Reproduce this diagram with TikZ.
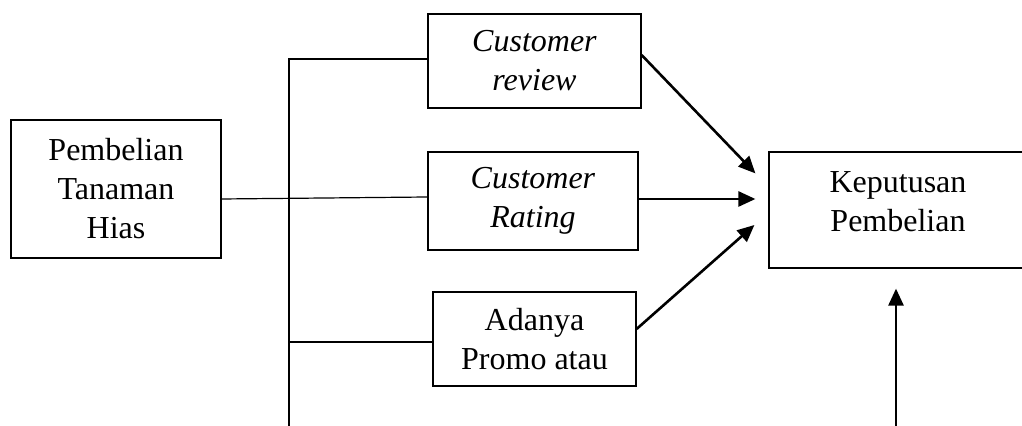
\documentclass[tikz,border=0pt]{standalone}
\usepackage{fontspec}
\setmainfont{Liberation Serif}
\usetikzlibrary{positioning,arrows.meta}

\tikzset{
  varbox/.style={draw, line width=0.6pt, inner sep=0pt, align=center, font=\fontsize{16pt}{19.5pt}\selectfont},
  link/.style={line width=0.6pt},
  arrowline/.style={line width=1.3pt, -{Triangle[length=8.5pt,width=7.5pt]}}
}

\begin{document}
\begin{tikzpicture}[x=0.5pt, y=-0.5pt]
    \useasboundingbox (0,0) rectangle (1022,426);

    \node[varbox, minimum width=105pt, minimum height=69pt] (pembelian) at (116,189) {Pembelian\\Tanaman\\Hias};
    \node[varbox, minimum width=106.5pt, minimum height=47pt] (review) at (534.5,61) {\textit{Customer}\\\textit{review}};
    \node[varbox, minimum width=105pt, minimum height=49pt] (rating) at (533,201) {\textit{Customer}\\\textit{Rating}};
    \node[varbox, minimum width=101.5pt, minimum height=47pt] (promo) at (534.5,339) {Adanya\\Promo atau};
    \node[varbox, minimum width=129pt, minimum height=58pt,
      label={[varbox, draw=none, anchor=north, yshift=-10pt]north:{Keputusan\\Pembelian}}] (keputusan) at (898,210) {};

    \coordinate (bus top) at (289,59);
    \coordinate (bus end) at (289,426);
    \coordinate (decision in) at (896,426);

    \draw[link] (bus end) -- (bus top) -- (bus top -| review.west);
    \draw[link] ([yshift=-1.5pt]bus top |- promo.west) -- ([yshift=-1.5pt]promo.west);
    \draw[link] ([yshift=-5pt]pembelian.east) -- ([yshift=2pt]rating.west);

    \draw[arrowline] ([yshift=3pt]review.east) -- ([xshift=-6.5pt,yshift=-11pt]keputusan.north west);
    \draw[arrowline] ([yshift=1pt]rating.east) -- ([xshift=-6.5pt,yshift=5.5pt]keputusan.west);
    \draw[arrowline] ([yshift=5pt]promo.east) -- ([xshift=-7pt,yshift=-7.5pt]keputusan.west);
    \draw[arrowline] (decision in) -- ([xshift=-1pt,yshift=-10pt]keputusan.south);
  \end{tikzpicture}
\end{document}
